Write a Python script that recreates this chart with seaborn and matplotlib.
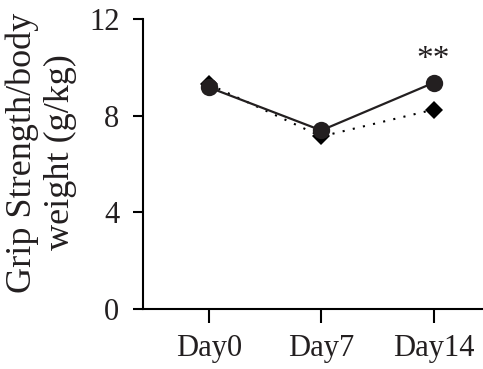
import matplotlib
matplotlib.use("Agg")
import matplotlib.pyplot as plt
import seaborn as sns
import pandas as pd

days = ["Day0", "Day7", "Day14"]
group_a = [9.17, 7.39, 9.36]   # circles, solid
group_b = [9.30, 7.14, 8.25]   # diamonds, dotted
yticks = [0, 4, 8, 12]
ylabel = "Grip Strength/body\nweight (g/kg)"
sig_label = "**"

sns.set_theme(style="ticks")
plt.rcParams['font.family'] = ['Liberation Serif', 'DejaVu Serif']

df = pd.DataFrame({
    "day": list(range(3)) * 2,
    "value": group_b + group_a,
    "group": ["B"] * 3 + ["A"] * 3,
})

fig = plt.figure(figsize=(4.83, 3.69), dpi=100)
ax = fig.add_axes([143/483, 1 - 309/369, 1 - 143/483, (309 - 19)/369])

sns.lineplot(data=df[df.group == "B"], x="day", y="value", ax=ax, color="black",
             marker="D", markersize=9.5, markeredgewidth=0, linewidth=1.5,
             linestyle=(0, (1, 4)), legend=False)
sns.lineplot(data=df[df.group == "A"], x="day", y="value", ax=ax, color="#231f20",
             marker="o", markersize=12.5, markeredgewidth=0, linewidth=1.6,
             legend=False)

ax.text(2, 10.3, sig_label, ha="center", va="center", fontsize=24, color="#231f20")

ax.set_xlim(-0.587, 2.44)
ax.set_ylim(0, 12)
ax.set_xticks(range(3))
ax.set_xticklabels(days)
ax.set_yticks(yticks)
ax.set_xlabel("")
ax.set_ylabel(ylabel, fontsize=26, linespacing=1.2, color="#231f20")
ax.yaxis.set_label_coords(-0.195, 0.54)
ax.tick_params(axis="both", labelsize=22, width=1.5, color="black", labelcolor="#231f20")
ax.tick_params(axis="y", length=7, pad=10)
ax.tick_params(axis="x", length=10, pad=8)
for s in ["top", "right"]:
    ax.spines[s].set_visible(False)
for s in ["left", "bottom"]:
    ax.spines[s].set_linewidth(1.5)
    ax.spines[s].set_color("black")

fig.savefig("out.png", dpi=100)
